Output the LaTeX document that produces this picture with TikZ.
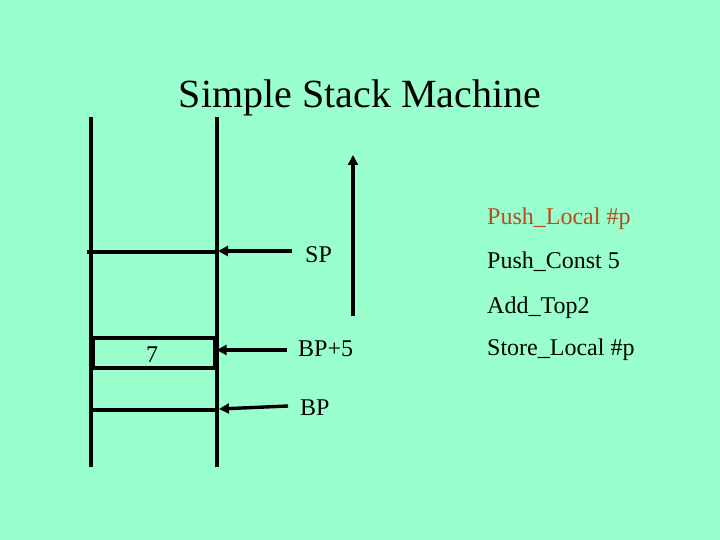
\documentclass[tikz,border=0pt]{standalone}
\usepackage{fontspec}
\setmainfont{Liberation Serif}
\usetikzlibrary{arrows.meta}
\definecolor{slidebg}{RGB}{153,255,204}
\definecolor{curinstr}{RGB}{185,75,30}
\begin{document}
\begin{tikzpicture}[x=1pt,y=-1pt,
    stackline/.style={line width=3.8pt},
    pointer/.style={line width=3.4pt,-{Triangle[length=10pt,width=10pt]}},
    ptrtext/.style={font=\fontsize{24}{28}\selectfont,anchor=base west,inner sep=0pt},
    instr/.style={ptrtext}]
    \fill[slidebg] (0,0) rectangle (720,540);
    \node[font=\fontsize{40}{48}\selectfont,anchor=base] (title) at (360,108) {Simple Stack Machine};
    % the stack
    \coordinate (lt) at (91,117);  \coordinate (lb) at (91,467);
    \coordinate (rt) at (217,117); \coordinate (rb) at (217,467);
    \draw[stackline] (lt) -- (lb);
    \draw[stackline] (rt) -- (rb);
    \coordinate (spl) at (87,252);  \coordinate (spr) at (217,252);
    \draw[stackline] (spl) -- (spr);
    \coordinate (bpl) at (91,410);  \coordinate (bpr) at (217,410);
    \draw[stackline] (bpl) -- (bpr);
    \node[draw,line width=3.4pt,minimum width=122pt,minimum height=30pt,inner sep=0pt] (cell) at (154,353) {};
    \draw[line width=3pt] (93.5,338) -- (93.5,368) (214.5,338) -- (214.5,368);
    \node[ptrtext,anchor=base] (val) at (152,362) {7};
    % pointers
    \node[ptrtext] (sp) at (305,262) {SP};
    \node[ptrtext] (bp5) at (298,356) {BP+5};
    \node[ptrtext] (bp) at (300,415) {BP};
    \coordinate (sptail) at (292,251);
    \coordinate (bp5tail) at (287,350);
    \coordinate (bptail) at (288,406);
    \draw[pointer] (sptail) -- (218,251);
    \draw[pointer] (bp5tail) -- (cell.east |- bp5tail);
    \draw[pointer] (bptail) -- (219,409);
    % program counter
    \coordinate (pcb) at (353,316); \coordinate (pct) at (353,155);
    \draw[pointer] (pcb) -- (pct);
    % program
    \node[instr,text=curinstr] (i1) at (487,225) {Push\_Local \#p};
    \node[instr] (i2) at (487,268) {Push\_Const 5};
    \node[instr] (i3) at (487,313) {Add\_Top2};
    \node[instr] (i4) at (487,355) {Store\_Local \#p};
\end{tikzpicture}
\end{document}
